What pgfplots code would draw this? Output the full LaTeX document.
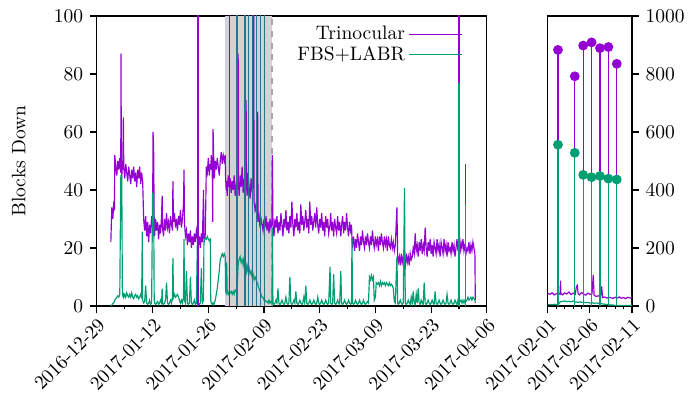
\documentclass[border=0pt]{standalone}
\usepackage{pgfplots}
\usepackage{pgfplotstable}
\pgfplotsset{compat=1.18}
\definecolor{tri}{HTML}{9400D3}
\definecolor{fbs}{HTML}{009E73}
\definecolor{shade}{RGB}{211,211,211}

% t = days since 2016-12-29, p = Trinocular, g = FBS+LABR
\pgfplotstableread{
t p g
3.50 22 0
3.75 34 0.3
4.00 30 0.8
4.25 36 1.2
4.40 33 1.5
4.50 52 2
4.75 48 2.5
5.00 45 3
5.25 50 3.5
5.50 47 3
5.75 51 4
6.00 46 44
6.05 87 45
6.15 49 45
6.25 44 44
6.40 50 4
6.50 47 3.5
6.65 65 4
6.75 48 3
7.00 44 4
7.25 49 3
7.50 46 4.5
7.75 43 3.5
8.00 48 3
8.25 45 4
8.50 42 3
8.75 47 4.5
9.00 44 3
9.25 48 2.5
9.50 43 3.5
9.75 46 4
10.00 41 3
10.25 47 3.5
10.50 44 2.5
10.75 48 3
11.00 42 4
11.25 46 3
11.40 44 25.6
11.50 43 2
11.75 30 1
12.00 26 1.5
12.25 31 7
12.50 24 1
12.75 29 0.5
13.00 22 1
13.25 28 2
13.50 25 0.5
13.75 31 1
14.00 27 39
14.10 60 39
14.25 56 38
14.40 29 2
14.50 24 1
14.75 30 0.5
15.00 26 1
15.25 29 1.5
15.50 23 0.5
15.75 28 1
16.00 25 2
16.25 31 1
16.40 38 6
16.50 27 1
16.75 24 0.5
17.00 30 1
17.25 26 2
17.50 32 8
17.75 27 1
18.00 29 0.5
18.25 25 1
18.50 31 2
18.75 28 1
19.00 26 3
19.10 43 16.5
19.25 29 3
19.50 32 4
19.75 27 3
20.00 30 3.5
20.25 26 4
20.50 31 3
20.75 28 2
21.00 33 1
21.25 27 2
21.50 30 1
21.75 35 3
21.90 47 23
22.00 29 2
22.25 24 1
22.50 26 12
22.75 21 1
23.00 25 0.5
23.25 22 1
23.50 26 10
23.75 20 1
24.00 24 0.5
24.25 21 1
24.50 25 2
24.75 22 0.5
25.00 26 1
25.30 23 25.6
25.50 21 1
25.75 24 0.5
26.00 20 1
26.25 25 13
26.50 22 1
26.80 40 2
26.90 24 22
27.00 22 23
27.25 25 23.5
27.50 48 23
27.75 46 24
28.00 51 23
28.25 45 22.5
28.50 49 23
28.60 47 2
28.75 52 1
29.00 46 0.5
29.10 29 1
29.20 61 1
29.40 48 0.5
29.50 44 1
29.75 50 2
30.00 47 4
30.25 51 6
30.50 48 9
30.75 45 12
31.00 50 16
31.25 53 17
31.50 49 18
31.75 52 17
32.00 50 18
32.25 52 17
32.35 44 5
32.50 40 4.5
32.60 43 15
32.75 38 5
33.00 45 4
33.25 41 5
33.50 44 4.5
33.75 39 5
34.00 43 4
34.25 40 5
34.50 45 4
34.75 38 5.5
35.00 42 5
35.25 44 6
35.45 40 13
35.50 87 14
35.55 43 15
35.75 38 16
36.00 45 17
36.25 41 15
36.50 48 16
36.75 39 14
37.00 44 17
37.25 40 13
37.40 67 14
37.50 71 13
37.60 42 12
37.75 38 14
38.00 46 12
38.25 41 13
38.50 37 11
38.75 44 12
39.00 40 10
39.25 42 11
39.40 107 10
39.50 36 9
39.75 33 10
40.00 35 9
40.25 30 8
40.40 67 8
40.50 29 7
40.75 31 6
41.00 27 5
41.25 30 4
41.50 28 3
41.75 26 3
42.00 30 2
42.25 27 2
42.50 31 1.5
42.75 26 1.5
43.00 29 1
43.25 25 2
43.50 30 1
43.75 27 1.5
44.00 29 1
44.10 52 27
44.25 28 1
44.50 24 0.5
44.75 30 1
45.00 27 2
45.25 31 1
45.50 25 6
45.75 29 1
46.00 26 0.5
46.25 32 1
46.50 28 2
46.75 24 1
47.00 30 0.5
47.25 27 1
47.50 33 3
47.75 26 1
48.00 29 0.5
48.25 25 1
48.50 31 10
48.75 27 1
49.00 36 0.5
49.25 28 1
49.50 24 2
49.75 30 1
50.00 27 5
50.25 32 1
50.50 26 0.5
50.75 29 1
51.00 25 2
51.25 35 1
51.50 28 0.5
51.75 31 1
52.00 26 3
52.25 29 1
52.50 33 7
52.75 27 1
53.00 30 0.5
53.25 25 1
53.50 36 2
53.75 28 1
54.00 31 0.5
54.25 26 1
54.50 29 2
54.75 32 1
55.00 27 0.5
55.25 34 1
55.50 28 3
55.75 25 1
56.00 30 0.5
56.25 27 1
56.50 32 2
56.75 26 1
57.00 29 0.5
57.25 24 1
57.50 31 2
57.75 27 1
58.00 30 0.5
58.25 25 1
58.60 28 13.5
58.75 32 1
59.00 26 0.5
59.25 29 1
59.50 24 11
59.75 30 1
60.00 27 0.5
60.25 25 1
60.50 31 2
60.75 26 1
61.00 29 0.5
61.30 24 12
61.50 28 1
61.75 31 0.5
62.00 25 1
62.25 29 2
62.50 26 1
62.75 32 0.5
63.00 27 1
63.25 24 2
63.50 29 1
63.75 26 0.5
64.00 28 1
64.10 23 23
64.25 21 1
64.50 24 0.5
64.75 19 1
65.00 23 2
65.25 20 1
65.50 25 0.5
65.75 22 1
66.00 19 2
66.25 24 1
66.50 21 0.5
66.75 26 1
67.00 22 2
67.25 20 1
67.50 24 0.5
67.75 21 1
68.00 25 1.5
68.25 22 1
68.50 20 10
68.75 24 9
69.00 21 10.5
69.25 26 9
69.50 22 10
69.70 20 2
70.00 24 3
70.20 21 8
70.50 23 7.5
70.75 19 8
71.00 24 7
71.25 21 8.5
71.50 25 7
71.75 22 8
72.00 20 7.5
72.25 24 8
72.50 21 7
72.75 23 8
73.00 19 7.5
73.25 24 7
73.50 21 8
73.75 20 7
74.00 23 7.5
74.25 20 7
74.50 22 6
74.75 19 1.5
75.00 21 1
75.40 34 17
75.60 16 1
75.75 15 0.5
76.00 17 1
76.25 14 2
76.50 18 1
76.75 15 0.5
77.00 17 1
77.30 16 40.6
77.50 14 1
77.75 18 0.5
78.00 15 1
78.25 17 2
78.50 14 1
78.75 18 0.5
79.00 16 3
79.25 17 1
79.50 20 5
79.75 18 1
80.00 25 0.5
80.25 19 4
80.50 21 1
80.75 17 6
81.00 22 1
81.25 19 0.5
81.50 23 2
81.75 18 1
82.00 21 0.5
82.25 19 8
82.50 27 1
82.75 20 0.5
83.00 17 1
83.25 22 2
83.50 19 1
83.75 23 0.5
84.00 18 1
84.25 21 2
84.50 17 1
84.75 22 0.5
85.00 20 5
85.25 18 1
85.50 23 0.5
85.75 19 1
86.00 21 2
86.25 17 1
86.50 22 0.5
86.75 20 1
87.00 18 2
87.25 23 1
87.50 19 0.5
87.75 21 1
88.00 17 4
88.25 22 1
88.50 19 0.5
88.75 20 1
89.00 18 2
89.25 22 1
89.50 19 0.5
89.75 21 1
90.00 17 2
90.25 20 1
90.50 23 0.5
90.75 19 2
91.00 24 1
91.25 18 1.5
91.50 22 2
91.75 20 1
92.00 23 2
92.25 19 1
92.50 21 2
92.75 18 1.5
93.00 20 2
93.25 19 3
93.50 22 2
93.75 18 2.5
94.00 21 3
94.25 19 2
94.50 22 3
94.75 20 2.5
95.00 18 2
95.10 2 1
}\series

% tall spikes (t, value)
\pgfplotstableread{
t v
25.4 150
33.4 150
35.2 883
37.2 792
38.2 898
39.2 909
40.2 889
41.2 893
42.2 835
91.0 150
92.6 49
}\trispikes
\pgfplotstableread{
t v
91.0 77
92.6 35
}\fbssmall
\pgfplotstableread{
t v
35.2 883
37.2 792
38.2 898
39.2 909
40.2 889
41.2 893
42.2 835
}\tribig
\pgfplotstableread{
t v
35.2 556
37.2 528
38.2 452
39.2 444
40.2 448
41.2 439
42.2 436
}\fbsbig

\pgfplotsset{
  common/.style={
    scale only axis,
    anchor=south west,
    height=148.7pt,
    ymin=0,
    tick align=outside,
    major tick length=3.5pt,
    minor tick length=1.75pt,
    xtick pos=bottom,
    xticklabel style={rotate=45, anchor=north east, inner sep=1.5pt},
    every axis plot/.append style={line width=0.6pt},
    axis line style={line width=0.6pt},
    tick style={line width=0.6pt, black},
  }
}

\begin{document}
\begin{tikzpicture}
\useasboundingbox (0,0) rectangle (354.4pt,204.1pt);

\begin{axis}[common,
  at={(49.7pt,47.2pt)},
  width=200pt,
  xmin=0, xmax=98, ymax=100,
  xtick={0,14,28,42,56,70,84,98},
  xticklabels={2016-12-29,2017-01-12,2017-01-26,2017-02-09,2017-02-23,2017-03-09,2017-03-23,2017-04-06},
  minor x tick num=1,
  ytick={0,20,40,60,80,100},
  ytick pos=left,
  ylabel={Blocks Down},
  ylabel style={at={(axis description cs:-0.165,0.5)}, anchor=south},
  legend plot pos=right,
  legend cell align=right,
  legend style={draw=none, fill=none, at={(0.944,0.987)}, anchor=north east,
    row sep=-2pt, inner sep=1pt},
  legend image code/.code={\draw[#1, line width=0.6pt] (0pt,0pt) -- (27pt,0pt);},
]
\addplot[fill=shade, draw=none, forget plot] coordinates {(32.3,0) (32.3,100) (44,100) (44,0)} -- cycle;
\addplot[gray!70, dashed, line width=0.6pt, forget plot] coordinates {(44,0) (44,100)};
\addplot[tri] table[x=t, y=p] {\series};
\addlegendentry{Trinocular}
\addplot[fbs] table[x=t, y=g] {\series};
\addlegendentry{FBS+LABR}
\addplot[tri, ycomb, forget plot] table[x=t, y=v] {\trispikes};
\addplot[fbs, ycomb, draw opacity=0.75, forget plot] table[x=t, y=v] {\fbsbig};
\addplot[fbs, ycomb, forget plot] table[x=t, y=v] {\fbssmall};
\end{axis}

\begin{axis}[common,
  at={(281pt,47.2pt)},
  width=43.1pt,
  xmin=34, xmax=44, ymax=1000,
  xtick={34,39,44},
  xticklabels={2017-02-01,2017-02-06,2017-02-11},
  minor x tick num=4,
  ytick={0,200,400,600,800,1000},
  ytick pos=right,
  yticklabel pos=right,
  yticklabel style={/pgf/number format/1000 sep={}},
]
\addplot[tri] table[x=t, y=p] {\series};
\addplot[fbs] table[x=t, y=g] {\series};
\addplot[tri, ycomb, mark=*, mark size=2.2pt, mark options={fill=tri, draw=tri}] table[x=t, y=v] {\tribig};
\addplot[fbs, ycomb, mark=*, mark size=2.2pt, mark options={fill=fbs, draw=fbs}] table[x=t, y=v] {\fbsbig};
\end{axis}
\end{tikzpicture}
\end{document}
